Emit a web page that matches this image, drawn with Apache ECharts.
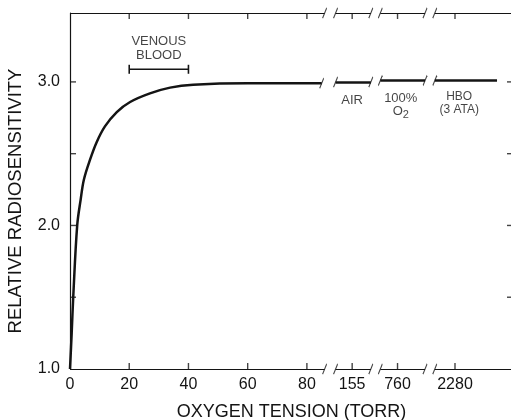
<!DOCTYPE html>
<html>
<head>
<meta charset="utf-8">
<script src="https://cdn.jsdelivr.net/npm/echarts@6/dist/echarts.min.js"></script>
<style>
html,body{margin:0;padding:0;background:#fff}
#chart{width:511px;height:420px}
</style>
</head>
<body>
<div id="chart"></div>
<script>
// values
var curveTorr = [0, 0.57, 1.11, 2.43, 3.6, 4.7, 6.8, 9.0, 11.8, 15.8, 20.3, 27, 33.8, 41.6, 60, 85];
var curveValue = [1.0, 1.25, 1.51, 2.0, 2.18, 2.32, 2.46, 2.58, 2.69, 2.79, 2.86, 2.92, 2.96, 2.98, 2.99, 2.99];
// flat pieces drawn past the breaks (air, 100% O2, HBO)
var flatTorr = [[145, 166.3], [680, 888], [1800, 3280]];
var flatValue = [3.0, 3.01, 3.01];
var tickTorr = [0, 20, 40, 60, 80, 155, 760, 2280];
var tickLabels = ['0', '20', '40', '60', '80', '155', '760', '2280'];
var yTicks = [1.5, 2.0, 2.5, 3.0];
var yLabels = [1.0, 2.0, 3.0];
var venousRange = [20, 40];
var venousLevel = 3.088;
// broken axis: torr ranges and where each one sits along the drawn axis
var segTorr = [[0, 86], [145, 166.3], [680, 888], [1800, 3660]];
var segPos = [[0, 86], [89.7, 101.6], [104.8, 119.9], [123.2, 149.6]];
var yMin = 1.0, yMax = 3.48;
var xMax = 149.6;

var font = '"Liberation Sans", Arial, Helvetica, sans-serif';
var ink = '#141414';

function toPos(t) {
  for (var i = 0; i < segTorr.length; i++) {
    var s = segTorr[i], p = segPos[i];
    if (t <= s[1] || i == segTorr.length - 1) {
      return p[0] + (t - s[0]) / (s[1] - s[0]) * (p[1] - p[0]);
    }
  }
}

var tickPos = tickTorr.map(toPos);

var curveData = [];
curveTorr.forEach(function (t, i) {
  curveData.push([toPos(t), curveValue[i]]);
});

var flatLines = [];
flatTorr.forEach(function (r, i) {
  flatLines.push({coords: [[toPos(r[0]), flatValue[i]], [toPos(r[1]), flatValue[i]]]});
});

// top and bottom frame, broken like the axis
var frameLines = [];
var slashes = [];
segTorr.forEach(function (s, i) {
  [yMin, yMax].forEach(function (y) {
    frameLines.push({coords: [[toPos(s[0]), y], [toPos(s[1]), y]]});
    if (i > 0) slashes.push([toPos(s[0]), y]);
    if (i < segTorr.length - 1) slashes.push([toPos(s[1]), y]);
  });
});
// break marks on the curve itself
slashes.push([toPos(curveTorr[curveTorr.length - 1]), curveValue[curveValue.length - 1]]);
flatTorr.forEach(function (r, i) {
  slashes.push([toPos(r[0]), flatValue[i]]);
  if (i < flatTorr.length - 1) slashes.push([toPos(r[1]), flatValue[i]]);
});

// inward ticks on all four sides
var ticks = [];
tickPos.slice(1).forEach(function (x) {
  ticks.push({value: [x, yMin], symbolSize: [1.4, 6], symbolOffset: [0, -3]});
  ticks.push({value: [x, yMax], symbolSize: [1.4, 6], symbolOffset: [0, 3]});
});
yTicks.forEach(function (y) {
  ticks.push({value: [0, y], symbolSize: [6, 1.4], symbolOffset: [3, 0]});
  ticks.push({value: [xMax, y], symbolSize: [6, 1.4], symbolOffset: [-3, 0]});
});

var notes = [
  {value: [toPos(30), 3.235], label: {formatter: 'VENOUS\nBLOOD', fontSize: 13, lineHeight: 14}},
  {value: [toPos(155), 2.87], label: {formatter: 'AIR', fontSize: 13}},
  {value: [toPos(775), 2.84], label: {
    formatter: '{a|100%}\n{a|O}{s|2}',
    rich: {
      a: {fontSize: 13, lineHeight: 13, fontFamily: font, color: ink},
      s: {fontSize: 11, lineHeight: 13, padding: [7, 0, 0, 0], fontFamily: font, color: ink}
    }
  }},
  {value: [toPos(2380), 2.85], label: {formatter: 'HBO\n(3 ATA)', fontSize: 12, lineHeight: 13}}
];

var lineStyle = {color: ink, width: 1.2};

var chart = echarts.init(document.getElementById('chart'));
var option = {
  backgroundColor: '#fff',
  animation: false,
  grid: {left: 70, right: -2, top: 13, bottom: 51, outerBoundsMode: 'none', containLabel: false},
  xAxis: {
    type: 'value',
    min: 0,
    max: xMax,
    name: 'OXYGEN TENSION (TORR)',
    nameLocation: 'middle',
    nameGap: 34,
    nameTextStyle: {fontSize: 18, color: ink, fontFamily: font},
    axisLine: {show: false},
    axisTick: {show: false},
    splitLine: {show: false},
    axisLabel: {
      customValues: tickPos,
      margin: 8,
      fontSize: 16,
      color: ink,
      fontFamily: font,
      formatter: function (v) {
        for (var i = 0; i < tickPos.length; i++) {
          if (Math.abs(tickPos[i] - v) < 0.01) return tickLabels[i];
        }
        return '';
      }
    }
  },
  yAxis: [{
    type: 'value',
    min: yMin,
    max: yMax,
    position: 'left',
    name: 'RELATIVE RADIOSENSITIVITY',
    nameLocation: 'middle',
    nameGap: 45,
    nameTextStyle: {fontSize: 18.5, color: ink, fontFamily: font, padding: [0, 20, 0, 0]},
    axisLine: {show: true, lineStyle: lineStyle},
    axisTick: {show: false},
    splitLine: {show: false},
    axisLabel: {
      customValues: yLabels,
      margin: 10,
      fontSize: 16,
      color: ink,
      fontFamily: font,
      formatter: function (v) { return v.toFixed(1); }
    }
  }, {
    type: 'value',
    min: yMin,
    max: yMax,
    position: 'right',
    axisLine: {show: true, lineStyle: lineStyle},
    axisTick: {show: false},
    splitLine: {show: false},
    axisLabel: {show: false}
  }],
  series: [{
    name: 'curve',
    type: 'line',
    data: curveData,
    smooth: 0.35,
    symbol: 'none',
    lineStyle: {color: ink, width: 2.5}
  }, {
    name: 'flat',
    type: 'lines',
    coordinateSystem: 'cartesian2d',
    data: flatLines,
    lineStyle: {color: ink, width: 2.5, opacity: 1}
  }, {
    name: 'frame',
    type: 'lines',
    coordinateSystem: 'cartesian2d',
    clip: false,
    data: frameLines,
    lineStyle: {color: ink, width: 1.2, opacity: 1}
  }, {
    name: 'ticks',
    type: 'scatter',
    clip: false,
    data: ticks,
    symbol: 'rect',
    itemStyle: {color: ink}
  }, {
    name: 'venous',
    type: 'line',
    data: [[toPos(venousRange[0]), venousLevel], [toPos(venousRange[1]), venousLevel]],
    symbol: 'rect',
    symbolSize: [1.6, 9],
    showSymbol: true,
    itemStyle: {color: ink},
    lineStyle: {color: ink, width: 1.6}
  }, {
    name: 'breaks',
    type: 'scatter',
    clip: false,
    data: slashes,
    symbol: 'path://M0,10L4,0',
    symbolSize: [4, 10],
    itemStyle: {color: 'transparent', borderColor: ink, borderWidth: 1.3}
  }, {
    name: 'notes',
    type: 'scatter',
    data: notes,
    symbolSize: 1,
    itemStyle: {color: 'transparent'},
    label: {show: true, position: 'inside', color: ink, fontFamily: font, align: 'center'}
  }]
};
chart.setOption(option);
</script>
</body>
</html>
